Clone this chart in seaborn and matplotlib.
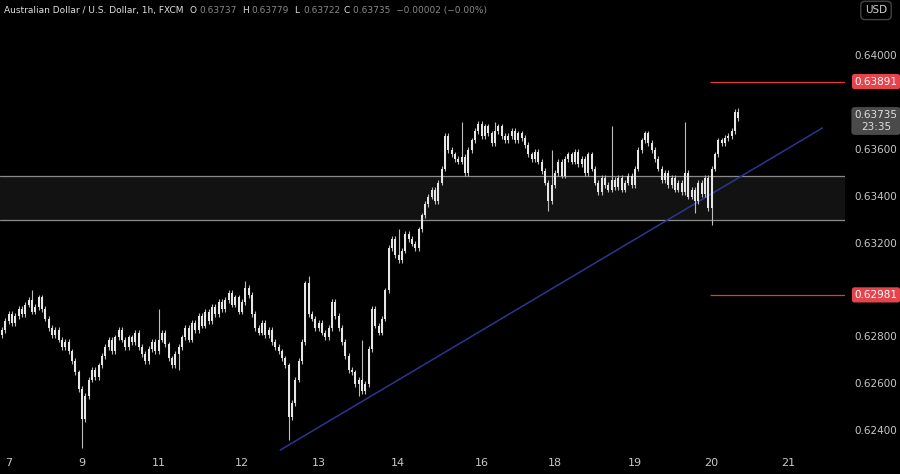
import numpy as np
import pandas as pd
import matplotlib
matplotlib.use("Agg")
import matplotlib.pyplot as plt
import seaborn as sns

# hourly closes in pips (x 1e-4)
closes = [
    6283, 6287, 6290, 6286, 6289, 6292, 6290, 6294, 6296, 6291, 6293, 6297,
    6292, 6288, 6284, 6281, 6283, 6279, 6276, 6278, 6274, 6270, 6265, 6258,
    6245, 6255, 6262, 6266, 6263, 6268,
    6272, 6276, 6279, 6274, 6280, 6283, 6279, 6276, 6280, 6278, 6282, 6276,
    6273, 6270, 6275, 6278, 6274, 6279, 6282, 6277, 6271, 6268, 6273, 6276,
    6280, 6284, 6279, 6286, 6283, 6289, 6285, 6291, 6287, 6293, 6290, 6295,
    6292, 6296, 6299, 6294, 6297, 6291, 6295, 6301, 6298, 6290, 6284, 6282,
    6286, 6281, 6283, 6278, 6276, 6274, 6271, 6268, 6246,
    6252, 6262, 6270, 6278, 6303, 6290, 6288, 6284, 6286, 6282, 6280, 6284,
    6295, 6289, 6284, 6278, 6272, 6266, 6265, 6260, 6262, 6257, 6260, 6275,
    6292, 6285, 6282, 6288, 6300, 6318, 6322, 6315, 6313, 6317, 6324, 6322,
    6320, 6318, 6326, 6332, 6337, 6340, 6343, 6338, 6346, 6352, 6366, 6360,
    6358, 6356, 6355, 6357, 6350, 6360, 6364, 6368, 6371, 6366, 6370, 6367,
    6363, 6368, 6370, 6366, 6364, 6366, 6368, 6364, 6367, 6365, 6362, 6358,
    6356, 6359, 6355, 6351, 6346, 6338, 6345, 6350, 6355, 6349, 6356, 6358,
    6355, 6359, 6354, 6356, 6350, 6358, 6352, 6346, 6342, 6348, 6345, 6343,
    6347, 6344, 6348, 6343, 6346, 6349, 6345, 6352, 6360, 6364, 6367, 6363,
    6360, 6356, 6352, 6347, 6350, 6345, 6348, 6343, 6346, 6342, 6350, 6340,
    6343, 6338, 6346, 6341, 6348, 6335, 6352, 6358, 6364,
    6363, 6365, 6366, 6368, 6376, 6373.5,
]
# spikes: candle index -> extreme wick price (pips)
spike_highs = {9: 6300, 47: 6292, 73: 6304, 92: 6306, 108: 6279, 119: 6326, 138: 6372, 148: 6372,
               165: 6360, 183: 6370, 205: 6372, 221: 6377.9}
spike_lows = {24: 6233, 53: 6266, 86: 6236, 107: 6255, 164: 6334, 208: 6333, 213: 6328}

tick_days = ["7", "9", "11", "12", "13", "14", "16", "18", "19", "20", "21"]
tick_idx = [2, 24, 47, 72, 95, 119, 144, 166, 190, 213, 236]
price_ticks = [0.6240, 0.6260, 0.6280, 0.6320, 0.6340, 0.6360, 0.6400]
zone = (0.6330, 0.6349)
levels = [0.63891, 0.62981]
trend = ([83.5, 246.2], [0.62319, 0.63693])
last_price = 0.63735

df = pd.DataFrame({"close": np.array(closes) / 1e4})
df["open"] = df["close"].shift(1).fillna(df["close"].iloc[0] - 0.0002)
df["high"] = df[["open", "close"]].max(axis=1) + 0.00012
df["low"] = df[["open", "close"]].min(axis=1) - 0.00012
for k, v in spike_highs.items():
    df.loc[k, "high"] = v / 1e4
for k, v in spike_lows.items():
    df.loc[k, "low"] = v / 1e4
df["idx"] = np.arange(len(df))

sns.set_style("dark")
plt.rcParams["font.family"] = ["DejaVu Sans"]
fig = plt.figure(figsize=(9, 4.74), dpi=100, facecolor="#000000")
ax = fig.add_axes([0, 0.046, 845 / 900, 0.954])
ax.set_facecolor("#000000")

ax.axhspan(zone[0], zone[1], color="#121212", zorder=0)
for z in zone:
    ax.axhline(z, color="#8a8a8a", lw=0.9, zorder=1)

ax.plot(trend[0], trend[1], color="#2d3590", lw=1.1, zorder=2)

ax.vlines(df["idx"], df["low"], df["high"], color="#bdbdbd", lw=0.8, zorder=3)
body_lo = df[["open", "close"]].min(axis=1)
body_h = (df["close"] - df["open"]).abs().clip(lower=0.00003)
ax.bar(df["idx"], body_h, bottom=body_lo, width=0.6, color="#e6e6e6", edgecolor="none", zorder=4)

for lv in levels:
    ax.hlines(lv, 212.5, 253, color="#e53935", lw=0.9, zorder=2)

ax.set_xlim(-0.6, 253)
ax.set_ylim(0.62310, 0.64239)
ax.set_xticks([])
ax.set_yticks([])
for s in ax.spines.values():
    s.set_visible(False)

for d, i in zip(tick_days, tick_idx):
    x = (2 + i * 3.33) / 900
    fig.text(x, 0.012, d, color="#c8c8c8", fontsize=8, ha="center", va="bottom")

def yfig(p):
    return 0.046 + 0.954 * (p - 0.62310) / (0.64239 - 0.62310)

for p in price_ticks:
    fig.text(876 / 900, yfig(p), f"{p:.5f}", color="#c8c8c8", fontsize=7.5, ha="center", va="center")
for lv in levels:
    fig.text(876 / 900, yfig(lv), f"{lv:.5f}", color="white", fontsize=7.5, ha="center", va="center",
             bbox=dict(boxstyle="round,pad=0.25", fc="#e5444d", ec="none"))
fig.text(876 / 900, yfig(last_price) - 0.006, f"{last_price:.5f}\n23:35", color="#e0e0e0", fontsize=7.5,
         ha="center", va="center", linespacing=1.2,
         bbox=dict(boxstyle="round,pad=0.3", fc="#4a4a4a", ec="none"))
fig.text(876 / 900, 0.978, "USD", color="#d0d0d0", fontsize=7.5, ha="center", va="center",
         bbox=dict(boxstyle="round,pad=0.4", fc="#000000", ec="#444444"))

fig.text(0.004, 0.978, "Australian Dollar / U.S. Dollar, 1h, FXCM", color="#e0e0e0", fontsize=6.5, va="center")
ohlc = [("O", "0.63737", 190), ("H", "0.63779", 242), ("L", "0.63722", 294),
        ("C", "0.63735  \u22120.00002 (\u22120.00%)", 344)]
for lab, val, px in ohlc:
    fig.text(px / 900, 0.978, lab, color="#e0e0e0", fontsize=6.5, va="center")
    fig.text((px + 9) / 900, 0.978, val, color="#888888", fontsize=6.5, va="center")

fig.savefig("out.png", dpi=100, facecolor=fig.get_facecolor())
